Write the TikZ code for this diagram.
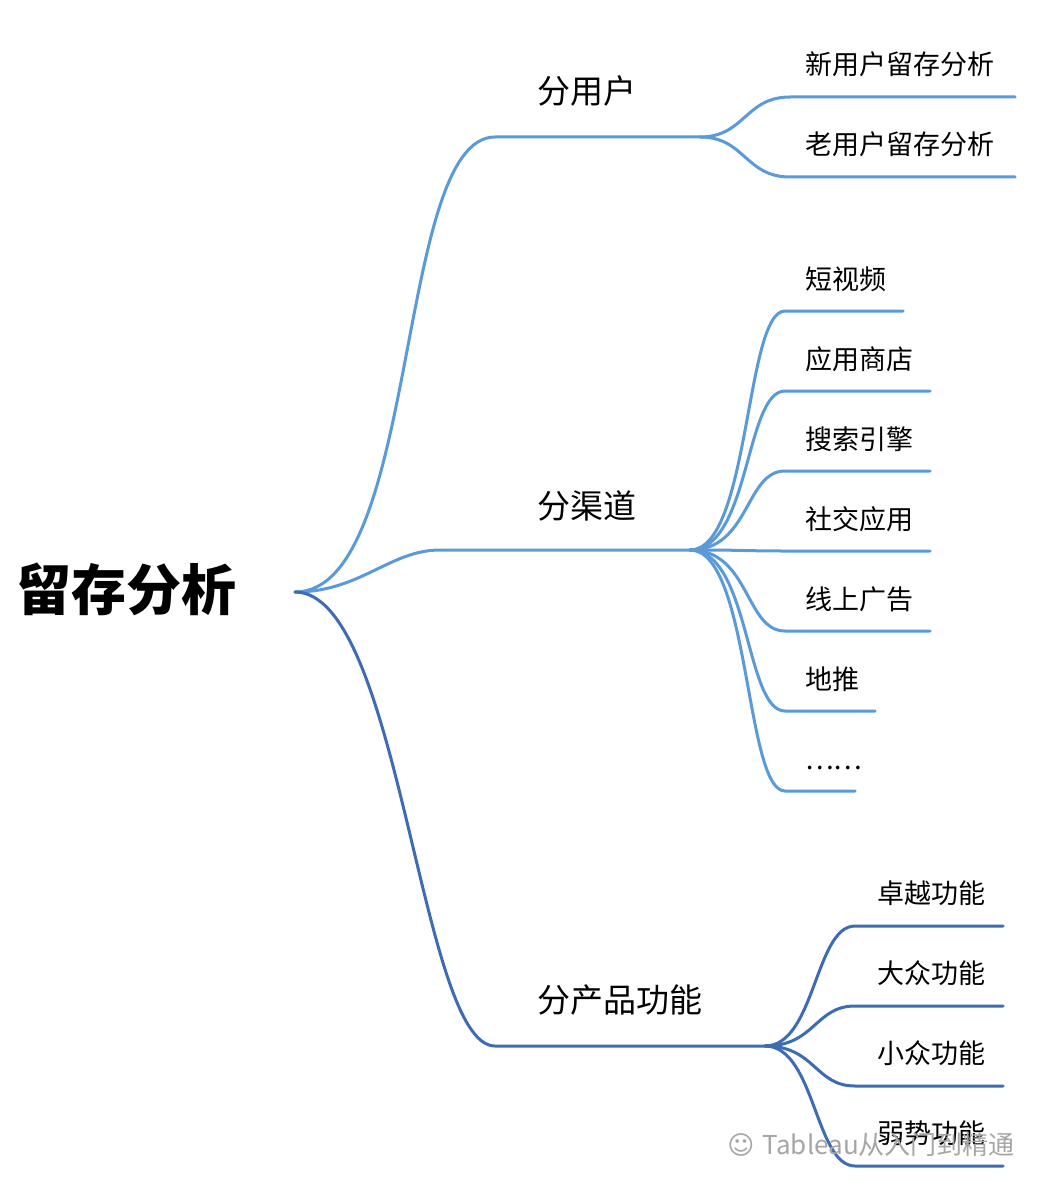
\documentclass[tikz,border=0pt]{standalone}
\usepackage{fontspec}
\setmainfont{Noto Sans CJK SC}
\definecolor{lb}{HTML}{5A9AD8}
\definecolor{db}{HTML}{3D6CB4}
\begin{document}
\begin{tikzpicture}[x=1pt,y=-1pt,
  br/.style={line width=3pt,line cap=round},
  leaf/.style={anchor=base west,font=\fontsize{27}{30}\selectfont,inner sep=0pt},
  mid/.style={anchor=base west,font=\fontsize{33}{36}\selectfont,inner sep=0pt}]
\useasboundingbox (0,0) rectangle (1048,1190);
\fill[white] (0,0) rectangle (1048,1190);
\node[anchor=base west,inner sep=0pt,font=\fontsize{55}{60}\selectfont\bfseries] (root) at (16,610) {留存分析};
\coordinate (r) at (295,592);
% level 1
\coordinate (a) at (700,137); \coordinate (b) at (690,550); \coordinate (c) at (765,1046);
\draw[br,lb] (r) .. controls (420,592) and (395,137) .. (495,137) -- (a);
\draw[br,lb] (r) .. controls (360,592) and (390,550) .. (440,550) -- (b);
\draw[br,db] (r) .. controls (400,592) and (420,1046) .. (495,1046) -- (c);
\node[mid] (n1) at (537,104) {分用户};
\node[mid] (n2) at (537,518) {分渠道};
\node[mid] (n3) at (537,1012) {分产品功能};
% 分用户 children
\foreach \y/\e/\t [count=\i] in {97/1015/新用户留存分析,177/1015/老用户留存分析}{
  \draw[br,lb] (a) .. controls (745,137) and (745,\y) .. (790,\y) -- (\e,\y);
  \node[leaf] (u\i) at (805,\y-22) {\t};
}
% 分渠道 children
\foreach \y/\e/\t [count=\i] in {311/903/短视频,391/930/应用商店,471/930/搜索引擎,551/930/社交应用,631/930/线上广告,711/875/地推,791/855/……}{
  \draw[br,lb] (b) .. controls (750,550) and (745,\y) .. (785,\y) -- (\e,\y);
  \node[leaf] (q\i) at (805,\y-22) {\t};
}
% 分产品功能 children
\foreach \y/\t [count=\i] in {926/卓越功能,1006/大众功能,1086/小众功能,1166/弱势功能}{
  \draw[br,db] (c) .. controls (815,1046) and (815,\y) .. (855,\y) -- (1003,\y);
  \node[leaf] (p\i) at (877,\y-23) {\t};
}
\node[anchor=base east,inner sep=0pt,text=gray!70,font=\fontsize{26}{28}\selectfont] (wm) at (1015,1154) {\fontspec{DejaVu Sans}☺ \fontspec{Noto Sans CJK SC}Tableau从入门到精通};
\end{tikzpicture}
\end{document}
